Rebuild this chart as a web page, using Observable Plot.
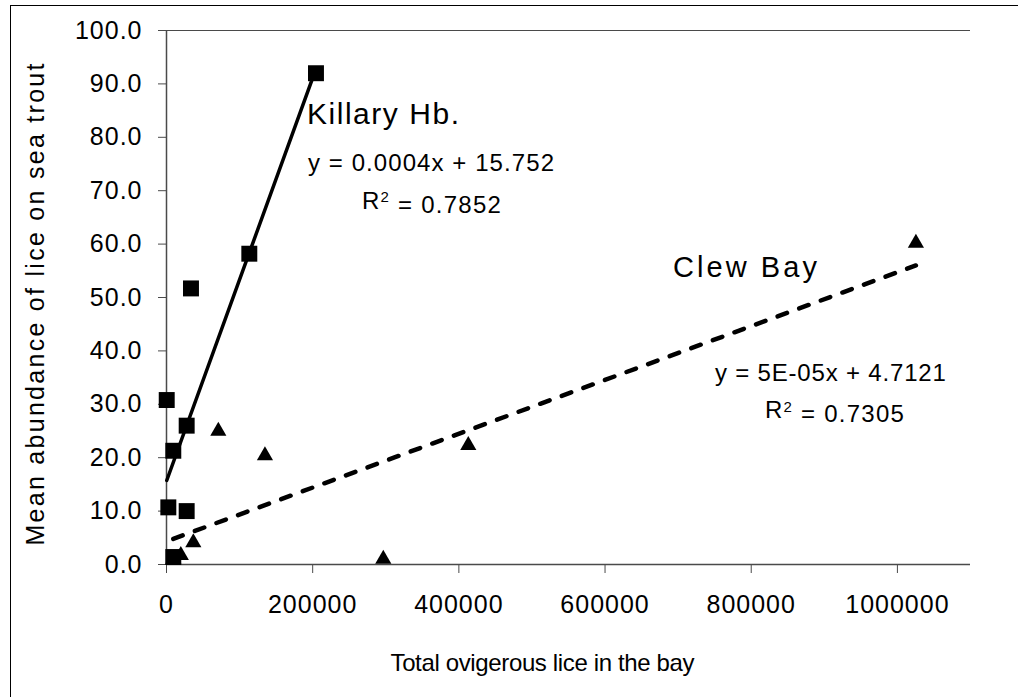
<!DOCTYPE html>
<html><head><meta charset="utf-8">
<script src="https://cdn.jsdelivr.net/npm/d3@7"></script>
<script src="https://cdn.jsdelivr.net/npm/@observablehq/plot@0.6"></script>
<style>
html,body{margin:0;padding:0;background:#fff;}
#chart{position:relative;width:1018px;height:697px;overflow:hidden;}
</style></head><body><div id="chart"></div>
<script>
// Killary Harbour (squares)
const killaryX = [300, 2500, 9300, 9300, 27600, 27600, 33500, 113300, 204500];
const killaryY = [30.8, 10.7, 1.4, 21.3, 10.0, 26.0, 51.7, 58.2, 92.0];
// Clew Bay (triangles)
const clewX = [9300, 19600, 36700, 70900, 134700, 296600, 412900, 1025300];
const clewY = [1.0, 1.7, 4.1, 25.0, 20.4, 1.0, 22.3, 60.2];
// Axis ticks
const xTicks = [0, 200000, 400000, 600000, 800000, 1000000];
const yTicks = [0, 10, 20, 30, 40, 50, 60, 70, 80, 90, 100];
// Texts
const xTitle = ["Total ovigerous lice in the bay"];
const yTitle = ["Mean abundance of lice on sea trout"];
const killaryName = ["Killary Hb."];
const killaryEq = ["y = 0.0004x + 15.752", "R\u00B2 = 0.7852"];
const clewName = ["Clew Bay"];
const clewEq = ["y = 5E-05x + 4.7121", "R\u00B2 = 0.7305"];

const killary = killaryX.map((x, i) => ({x, y: killaryY[i]}));
const clew = clewX.map((x, i) => ({x, y: clewY[i]}));

const axisColor = "#4a4a4a";

const svg = Plot.plot({
  width: 1018,
  height: 697,
  marginLeft: 166,
  marginRight: 48,
  marginTop: 30,
  marginBottom: 133,
  style: {fontFamily: "'Liberation Sans', Arial, sans-serif", fontSize: "25px", color: "#000", background: "#fff", letterSpacing: "1px"},
  x: {domain: [0, 1100000]},
  y: {domain: [0, 100]},
  marks: [
    Plot.ruleY([100], {stroke: axisColor, strokeWidth: 1.2}),
    Plot.axisY({ticks: yTicks, tickSize: 8, tickPadding: 16, tickFormat: d => d.toFixed(1), label: null, stroke: axisColor, fontSize: 25}),
    Plot.axisX({ticks: xTicks, tickSize: 9, tickPadding: 22, tickFormat: d => String(d), label: null, stroke: axisColor, fontSize: 25}),
    Plot.ruleX([0], {stroke: axisColor, strokeWidth: 1.5}),
    Plot.ruleY([0], {stroke: axisColor, strokeWidth: 1.5}),
    Plot.linearRegressionY(killary, {x: "x", y: "y", stroke: "#000", strokeWidth: 3.5, ci: 0}),
    Plot.linearRegressionY(clew, {x: "x", y: "y", stroke: "#000", strokeWidth: 4.5, strokeDasharray: "10,13", ci: 0}),
    Plot.dot(clew, {x: "x", y: "y", symbol: "triangle", r: 6, fill: "#000", stroke: "none"}),
    Plot.dot(killary, {x: "x", y: "y", symbol: "square", r: 9, fill: "#000", stroke: "none"}),
    Plot.text(killaryName, {x: 192200, y: 84.3, text: d => d, textAnchor: "start", fontSize: 30}),
    Plot.text(killaryEq.slice(0, 1), {x: 193600, y: 75.1, text: d => d, textAnchor: "start", fontSize: 24}),
    Plot.text(killaryEq.slice(1), {x: 267400, y: 68.0, text: d => d, textAnchor: "start", fontSize: 24}),
    Plot.text(clewName, {x: 692900, y: 55.6, text: d => d, textAnchor: "start", fontSize: 29}),
    Plot.text(clewEq.slice(0, 1), {x: 750300, y: 35.8, text: d => d, textAnchor: "start", fontSize: 24}),
    Plot.text(clewEq.slice(1), {x: 818700, y: 28.8, text: d => d, textAnchor: "start", fontSize: 24}),
    Plot.text(xTitle, {frameAnchor: "bottom", dx: -178, dy: 106, text: d => d, textAnchor: "start", fontSize: 24}),
    Plot.text(yTitle, {frameAnchor: "left", rotate: -90, dx: -131, dy: 248, text: d => d, textAnchor: "start", fontSize: 25})
  ]
});

// fit text runs to the widths seen in the reference
const lengths = {
  "Total ovigerous lice in the bay": 305,
  "Mean abundance of lice on sea trout": 483,
  "Killary Hb.": 153,
  "y = 0.0004x + 15.752": 247,
  "R\u00B2 = 0.7852": 140,
  "Clew Bay": 145,
  "y = 5E-05x + 4.7121": 232,
  "R\u00B2 = 0.7305": 140
};
d3.select(svg).selectAll("text").each(function() {
  const t = this.textContent;
  if (lengths[t]) {
    this.setAttribute("textLength", lengths[t]);
    this.setAttribute("lengthAdjust", "spacing");
  }
  // raised, smaller exponent in the R-squared labels
  if (t.startsWith("R\u00B2")) {
    const rest = t.slice(2);
    const sel = d3.select(this).text(null);
    sel.append("tspan").text("R");
    sel.append("tspan").attr("dy", "-0.45em").attr("font-size", 15).text("2");
    sel.append("tspan").attr("dy", "0.45em").text(rest);
  }
});
// chart-area border (right and bottom edges fall outside the picture)
d3.select(svg).append("rect")
  .attr("x", 10.5).attr("y", 5.5).attr("width", 1020).attr("height", 700)
  .attr("fill", "none").attr("stroke", "#000").attr("stroke-width", 1);

document.getElementById("chart").appendChild(svg);
</script></body></html>
